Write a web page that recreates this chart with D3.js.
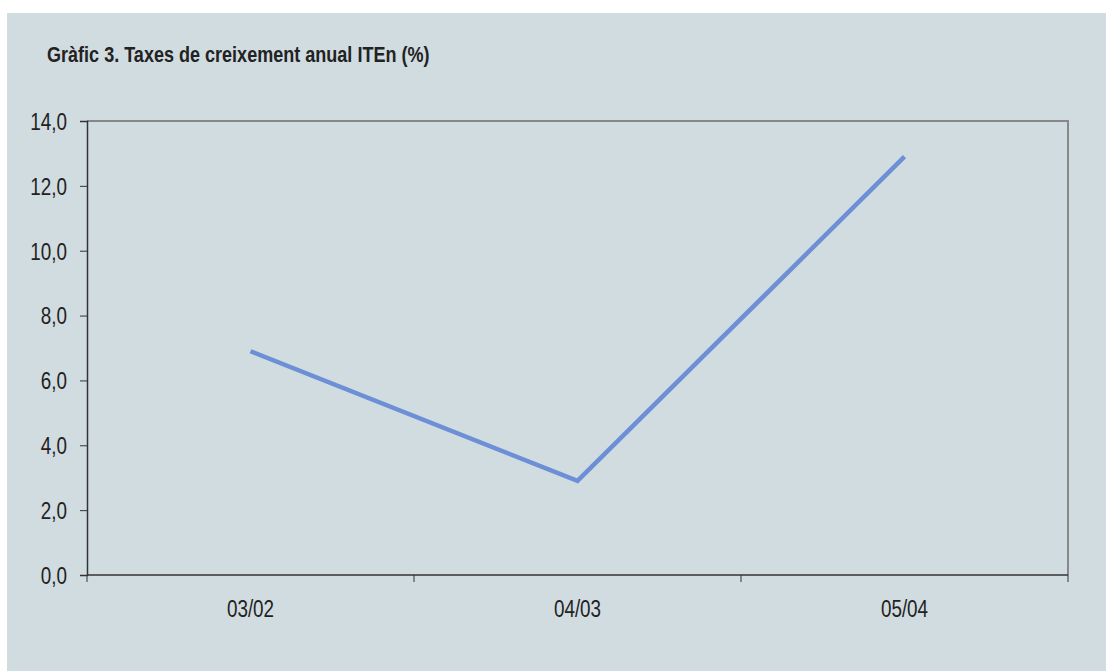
<!DOCTYPE html>
<html lang="ca">
<head>
<meta charset="UTF-8">
<title>Gràfic 3</title>
<script src="https://d3js.org/d3.v7.min.js"></script>
<style>
  body { margin: 0; background: #fff; }
  text { font-family: "Liberation Sans", Arial, sans-serif; fill: #222; }
</style>
</head>
<body>
<svg width="1106" height="671"></svg>
<script>
// Data
const categories = ["03/02", "04/03", "05/04"];
const values = [6.9, 2.9, 12.9];
const yTicks = [0, 2, 4, 6, 8, 10, 12, 14];
const title = "Gràfic 3. Taxes de creixement anual ITEn (%)";

const narrow = 0.82; // fake Arial Narrow

const svg = d3.select("svg");
const margin = { top: 121, right: 38, bottom: 96, left: 87 };
const width = 1106 - margin.left - margin.right;
const height = 671 - margin.top - margin.bottom;

// panel background
svg.append("rect")
    .attr("x", 7).attr("y", 13)
    .attr("width", 1099).attr("height", 658)
    .attr("fill", "#d1dce1");

svg.append("text")
    .attr("transform", `translate(47,62) scale(${narrow},1)`)
    .attr("font-size", 22)
    .attr("font-weight", "bold")
    .text(title);

const g = svg.append("g").attr("transform", `translate(${margin.left},${margin.top})`);

const x = d3.scaleBand().domain(categories).range([0, width]);
const y = d3.scaleLinear().domain([0, 14]).range([height, 0]);

// plot frame (top and right)
g.append("path")
    .attr("d", `M0,0H${width}V${height}`)
    .attr("fill", "none")
    .attr("stroke", "#888")
    .attr("stroke-width", 2);

// y axis
const yAxis = g.append("g")
    .call(d3.axisLeft(y).tickValues(yTicks).tickSize(7)
        .tickFormat(d => d3.format(".1f")(d).replace(".", ",")));
yAxis.select(".domain").attr("stroke", "#333").attr("stroke-width", 1.5);
yAxis.selectAll(".tick line").attr("stroke", "#333");
yAxis.selectAll(".tick text")
    .attr("x", 0)
    .attr("dy", "0.36em")
    .attr("transform", `translate(-20,0) scale(${narrow},1)`)
    .attr("font-size", 23)
    .attr("font-family", null)
    .attr("fill", "#222");

// x axis with ticks at band boundaries
const xAxis = g.append("g").attr("transform", `translate(0,${height})`);
xAxis.append("line")
    .attr("x1", 0).attr("x2", width)
    .attr("stroke", "#333").attr("stroke-width", 1.5);
const bounds = [0].concat(categories.map(c => x(c) + x.bandwidth()));
xAxis.selectAll(".xt").data(bounds).join("line")
    .attr("class", "xt")
    .attr("x1", d => d).attr("x2", d => d)
    .attr("y1", 0).attr("y2", 7)
    .attr("stroke", "#333");
xAxis.selectAll(".xl").data(categories).join("text")
    .attr("class", "xl")
    .attr("transform", d => `translate(${x(d) + x.bandwidth() / 2},42) scale(${narrow},1)`)
    .attr("text-anchor", "middle")
    .attr("font-size", 23)
    .text(d => d);

// line
const line = d3.line()
    .x((d, i) => x(categories[i]) + x.bandwidth() / 2)
    .y(d => y(d));
g.append("path")
    .datum(values)
    .attr("d", line)
    .attr("fill", "none")
    .attr("stroke", "#6d8fd6")
    .attr("stroke-width", 4.5);
</script>
</body>
</html>
